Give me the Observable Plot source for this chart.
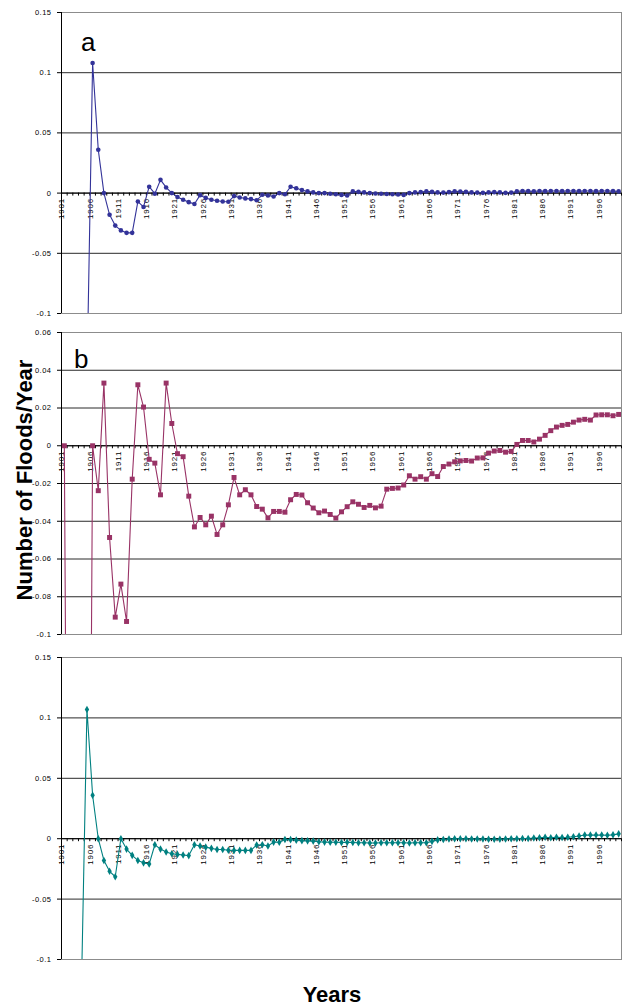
<!DOCTYPE html>
<html>
<head>
<meta charset="utf-8">
<script src="https://cdn.jsdelivr.net/npm/d3@7"></script>
<script src="https://cdn.jsdelivr.net/npm/@observablehq/plot@0.6"></script>
<style>
  body { margin: 0; background: #fff; }
  #wrap { position: relative; width: 622px; height: 1006px; font-family: "Liberation Sans", Arial, sans-serif; }
  #wrap svg { position: absolute; left: 0; overflow: visible; }
  g[aria-label="y-axis tick label"] text { letter-spacing: 0.5px; }
  g.xlab text { letter-spacing: 0.8px; }
</style>
</head>
<body>
<div id="wrap"></div>
<script>
// ---- categories (years) ----
const years = [
  1901,1902,1903,1904,1905,1906,1907,1908,1909,1910,
  1911,1912,1913,1914,1915,1916,1917,1918,1919,1920,
  1921,1922,1923,1924,1925,1926,1927,1928,1929,1930,
  1931,1932,1933,1934,1935,1936,1937,1938,1939,1940,
  1941,1942,1943,1944,1945,1946,1947,1948,1949,1950,
  1951,1952,1953,1954,1955,1956,1957,1958,1959,1960,
  1961,1962,1963,1964,1965,1966,1967,1968,1969,1970,
  1971,1972,1973,1974,1975,1976,1977,1978,1979,1980,
  1981,1982,1983,1984,1985,1986,1987,1988,1989,1990,
  1991,1992,1993,1994,1995,1996,1997,1998,1999
];
const xTickLabels = [1901,1906,1911,1916,1921,1926,1931,1936,1941,1946,1951,1956,1961,1966,1971,1976,1981,1986,1991,1996];

// ---- series values ----
const seriesA = [
  null,null,null,null,-0.155,0.108,0.036,0,-0.018,-0.027,
  -0.031,-0.033,-0.033,-0.007,-0.0115,0.0053,-0.0005,0.011,0.0047,0,
  -0.0033,-0.0055,-0.0075,-0.009,-0.0017,-0.004,-0.0055,-0.0064,-0.007,-0.0072,
  -0.0025,-0.0036,-0.0044,-0.005,-0.006,-0.0014,-0.002,-0.0028,0,-0.001,
  0.0053,0.004,0.0025,0.0014,0.0006,0,0,-0.0005,-0.001,-0.0015,
  -0.002,0.0014,0.001,0.0006,0,-0.0003,-0.0006,-0.0008,-0.001,-0.0012,
  -0.0015,0,0.0006,0.0008,0.0014,0.001,0.0006,0.0004,0.0008,0.0014,
  0.0012,0.001,0.0006,0.0004,0.0002,0.0006,0.0008,0.0006,0.0002,0.0004,
  0.0014,0.0018,0.0016,0.0014,0.0018,0.0016,0.0018,0.0018,0.0016,0.0018,
  0.0018,0.0016,0.0018,0.0018,0.0016,0.0018,0.0018,0.0016,0.0014
];
const seriesB = [
  0,-0.5,-0.5,-0.5,-0.5,0,-0.0238,0.0332,-0.0486,-0.0908,
  -0.0733,-0.0931,-0.0177,0.0323,0.0205,-0.0072,-0.0092,-0.026,0.0332,0.0118,
  -0.0042,-0.0058,-0.0267,-0.043,-0.038,-0.0419,-0.0373,-0.047,-0.0419,-0.0313,
  -0.0168,-0.026,-0.0233,-0.026,-0.0322,-0.0336,-0.0382,-0.0348,-0.0348,-0.0352,
  -0.0286,-0.0258,-0.0261,-0.0302,-0.033,-0.0355,-0.0346,-0.0364,-0.0383,-0.035,
  -0.0323,-0.0297,-0.031,-0.0327,-0.0316,-0.0329,-0.032,-0.023,-0.0226,-0.0224,
  -0.0208,-0.0159,-0.0177,-0.0164,-0.0177,-0.0148,-0.0163,-0.011,-0.0097,-0.0085,
  -0.008,-0.0078,-0.0081,-0.0065,-0.0064,-0.0039,-0.0028,-0.0025,-0.0034,-0.003,
  0.0007,0.0028,0.0028,0.002,0.0035,0.0055,0.008,0.0099,0.0108,0.0113,
  0.0125,0.0136,0.014,0.0136,0.0163,0.0164,0.0164,0.0159,0.0166
];
const seriesC = [
  null,null,null,-0.13,0.107,0.036,0,-0.018,-0.027,-0.0315,
  0,-0.0086,-0.0138,-0.018,-0.02,-0.021,-0.005,-0.0086,-0.011,-0.0124,
  -0.013,-0.0135,-0.014,-0.005,-0.006,-0.007,-0.008,-0.009,-0.009,-0.0095,
  -0.0097,-0.0097,-0.0097,-0.0097,-0.0052,-0.005,-0.006,-0.0028,-0.003,-0.0006,
  -0.0008,-0.0012,-0.0016,-0.0018,-0.002,-0.0025,-0.0028,-0.003,-0.003,-0.0032,
  -0.003,-0.0032,-0.0034,-0.0034,-0.0036,-0.0036,-0.0034,-0.0034,-0.0034,-0.0034,
  -0.0034,-0.0036,-0.0034,-0.0034,-0.0034,-0.0022,-0.001,-0.0006,-0.0002,0,
  0,0,-0.0002,-0.0002,-0.0002,-0.0004,-0.0004,-0.0004,-0.0002,0,
  0,0.0002,0.0002,0.0006,0.0008,0.0012,0.0008,0.0012,0.001,0.0012,
  0.0016,0.0022,0.003,0.003,0.003,0.003,0.0028,0.0032,0.004
];

// ---- y tick labels ----
const yTicksAC = [0.15, 0.1, 0.05, 0, -0.05, -0.1];
const yTicksB = [0.06, 0.04, 0.02, 0, -0.02, -0.04, -0.06, -0.08, -0.1];

// ---- titles ----
const yTitle = "Number of Floods/Year";
const xTitle = "Years";
const panelLabels = ["a", "b", ""];

const wrap = document.getElementById("wrap");
const boundaries = d3.range(years[0] - 0.5, years[years.length - 1] + 1, 1);

function panel({values, yTicks, color, symbol, r, top, height, marginTop, marginBottom}) {
  const data = years.map((year, i) => ({year, value: values[i]}));
  const dom = [d3.min(yTicks), d3.max(yTicks)];
  const svg = Plot.plot({
    width: 622,
    height,
    marginLeft: 61,
    marginRight: 1,
    marginTop,
    marginBottom,
    style: {fontFamily: "'Liberation Sans', Arial, sans-serif", background: "transparent", overflow: "visible"},
    x: {domain: [boundaries[0], boundaries[boundaries.length - 1]], axis: null},
    y: {domain: dom, axis: null},
    marks: [
      Plot.gridY(yTicks, {stroke: "#2a2a2a", strokeOpacity: 1}),
      Plot.frame({stroke: "#8c8c8c"}),
      Plot.ruleX([boundaries[0]], {stroke: "#000"}),
      Plot.axisY(yTicks, {tickSize: 4, tickPadding: 6, fontSize: 7.5, tickFormat: d => String(d), label: null, stroke: "#000", fill: "#000"}),
      Plot.ruleY([0], {stroke: "#000"}),
      Plot.ruleX(boundaries, {y1: () => 0, y2: () => 0, insetTop: 0, insetBottom: -3, stroke: "#000"}),
      Plot.text(xTickLabels, {x: d => d, y: () => 0, text: d => String(d), rotate: -90, textAnchor: "end", lineAnchor: "bottom", dy: 5, fontSize: 8, fill: "#000", className: "xlab"}),
      Plot.line(data, {x: "year", y: "value", stroke: color, strokeWidth: 1.1, clip: true}),
      Plot.dot(data, {x: "year", y: "value", symbol, r, fill: color, stroke: "none", clip: true})
    ]
  });
  svg.style.top = top + "px";
  wrap.appendChild(svg);
}

panel({values: seriesA, yTicks: yTicksAC, color: "#333399", symbol: "circle", r: 2.3, top: 0, height: 320, marginTop: 12, marginBottom: 7});
panel({values: seriesB, yTicks: yTicksB, color: "#993366", symbol: "square", r: 2.8, top: 320, height: 320, marginTop: 12, marginBottom: 6});
panel({values: seriesC, yTicks: yTicksAC, color: "#008080", symbol: "diamond", r: 2.3, top: 640, height: 330, marginTop: 17, marginBottom: 11});

// ---- overlay titles ----
const ov = d3.select(wrap).append("svg")
  .attr("width", 622).attr("height", 1006)
  .style("top", "0px").style("pointer-events", "none")
  .style("font-family", "'Liberation Sans', Arial, sans-serif");
ov.append("text").attr("transform", "translate(32,480) rotate(-90)")
  .attr("text-anchor", "middle").attr("font-weight", "bold").attr("font-size", 22).text(yTitle);
ov.append("text").attr("x", 332).attr("y", 1002)
  .attr("text-anchor", "middle").attr("font-weight", "bold").attr("font-size", 22).text(xTitle);
ov.append("text").attr("x", 81).attr("y", 51).attr("font-size", 26).text(panelLabels[0]);
ov.append("text").attr("x", 74).attr("y", 368).attr("font-size", 26).text(panelLabels[1]);
</script>
</body>
</html>
